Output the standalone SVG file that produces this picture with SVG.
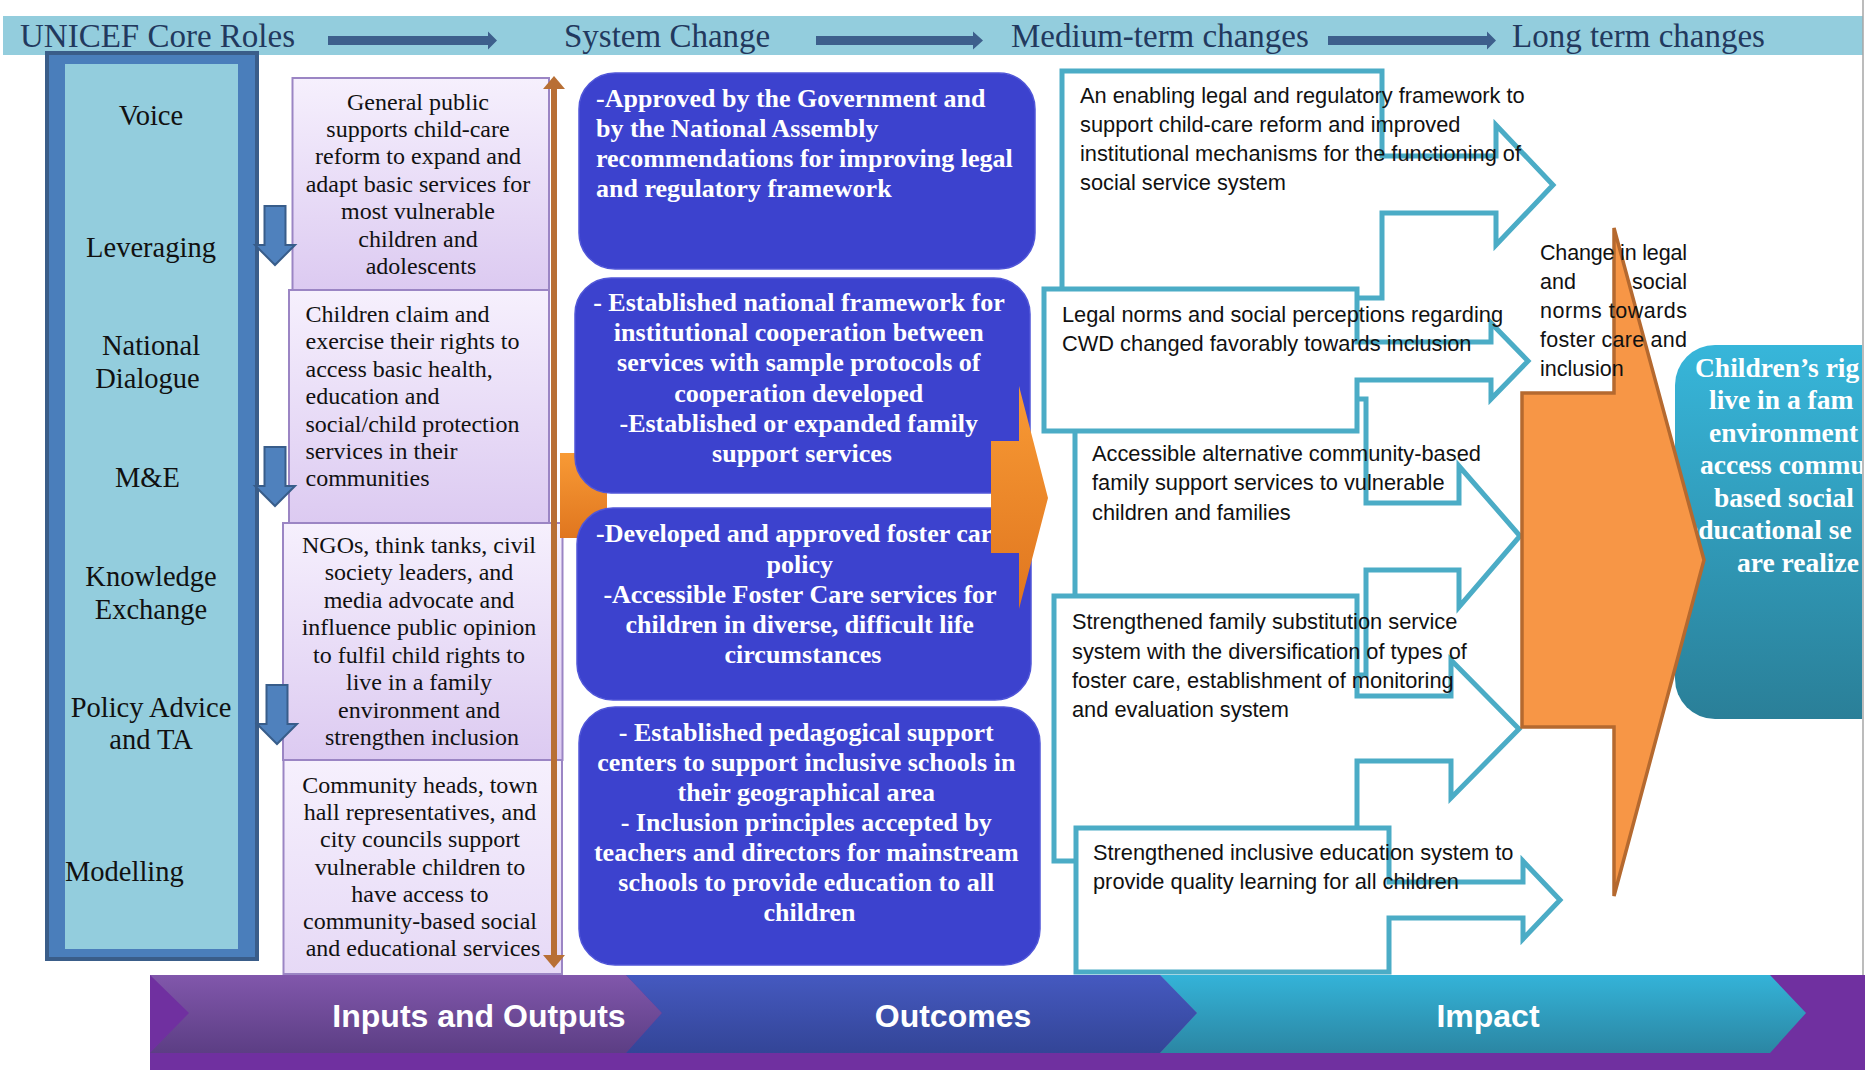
<svg xmlns="http://www.w3.org/2000/svg" width="1865" height="1070" viewBox="0 0 1865 1070">
<style>
.hdr{font-family:"Liberation Serif",serif;font-size:33px;fill:#22395E}
.role{font-family:"Liberation Serif",serif;font-size:28.5px;fill:#111;text-anchor:middle}
.io{font-family:"Liberation Serif",serif;font-size:24px;fill:#111}
.mid{text-anchor:middle}
.sc{font-family:"Liberation Serif",serif;font-size:26px;font-weight:bold;fill:#fff}
.mt{font-family:"Liberation Sans",sans-serif;font-size:21.8px;fill:#111}
.lt{font-family:"Liberation Sans",sans-serif;font-size:21.5px;fill:#111}
.imp{font-family:"Liberation Serif",serif;font-size:27.5px;font-weight:bold;fill:#fff}
.band{font-family:"Liberation Sans",sans-serif;font-size:32px;font-weight:bold;fill:#fff;text-anchor:middle}
.pbox{stroke:#9B85C4;stroke-width:2}
.bbox{fill:#3C42CE;stroke:#5056D8;stroke-width:1.5}
.callout{fill:#fff;stroke:#4BACC6;stroke-width:5;stroke-linejoin:miter}
.hdarrow{fill:#3D5F8C}
.down{fill:#4F81BD;stroke:#385D8A;stroke-width:2}
</style>
<defs>
<linearGradient id="gPurple" x1="0" y1="0" x2="0" y2="1"><stop offset="0" stop-color="#F6F0FD"/><stop offset="1" stop-color="#DCCAF1"/></linearGradient>
<linearGradient id="gPurple2" x1="0" y1="0" x2="0" y2="1"><stop offset="0" stop-color="#F6F0FD"/><stop offset="1" stop-color="#E6D9F6"/></linearGradient>
<linearGradient id="gOrange" x1="0" y1="0" x2="0" y2="1"><stop offset="0" stop-color="#F89A35"/><stop offset="1" stop-color="#E0761F"/></linearGradient>
<linearGradient id="gTeal" x1="0" y1="0" x2="0" y2="1"><stop offset="0" stop-color="#37B6DA"/><stop offset="1" stop-color="#2A7F98"/></linearGradient>
<linearGradient id="gC1" x1="0" y1="0" x2="0" y2="1"><stop offset="0" stop-color="#8157AB"/><stop offset="1" stop-color="#5C3E84"/></linearGradient>
<linearGradient id="gC2" x1="0" y1="0" x2="0" y2="1"><stop offset="0" stop-color="#4559C0"/><stop offset="1" stop-color="#334597"/></linearGradient>
<linearGradient id="gC3" x1="0" y1="0" x2="0" y2="1"><stop offset="0" stop-color="#34B3D8"/><stop offset="1" stop-color="#2B86A3"/></linearGradient>
<clipPath id="edge"><rect x="0" y="0" width="1862" height="1070"/></clipPath>
<path id="downArrow" d="M-10.5,0 H10.5 V39 H20 L0,59 L-20,39 H-10.5 Z"/>
</defs>
<rect width="1865" height="1070" fill="#fff"/>

<g id="header">
<rect x="3" y="16" width="1860" height="39" fill="#93CDDD"/>
<text class="hdr" x="20" y="47">UNICEF Core Roles</text>
<text class="hdr" x="564" y="47">System Change</text>
<text class="hdr" x="1011" y="47">Medium-term changes</text>
<text class="hdr" x="1512" y="47">Long term changes</text>
</g>

<g id="core-roles">
<rect x="47" y="53" width="210" height="906" fill="#4A7EBB" stroke="#3A5D89" stroke-width="4"/>
<rect x="65" y="64" width="173" height="885" fill="#93CDDD"/>
<text class="role" x="151" y="125.4">Voice</text>
<text class="role" x="151" y="257.4">Leveraging</text>
<text class="role" x="151" y="355">National</text>
<text class="role" x="147.5" y="388">Dialogue</text>
<text class="role" x="147.5" y="487">M&amp;E</text>
<text class="role" x="151" y="585.7">Knowledge</text>
<text class="role" x="151" y="619">Exchange</text>
<text class="role" x="151" y="716.5">Policy Advice</text>
<text class="role" x="151" y="748.6">and TA</text>
<text class="role" x="65" y="880.6" style="text-anchor:start">Modelling</text>
</g>

<g id="output-general-public">
<rect class="pbox" x="292.5" y="78" width="256.5" height="212" fill="url(#gPurple)"/>
<text class="io mid" x="421">
<tspan x="421" y="109.5">General public</tspan>
<tspan x="421" y="136.9">supports child-care</tspan>
<tspan x="421" y="164.3">reform to expand and</tspan>
<tspan x="421" y="191.7">adapt basic services for</tspan>
<tspan x="421" y="219.1">most vulnerable</tspan>
<tspan x="421" y="246.5">children and</tspan>
<tspan x="421" y="273.9">adolescents</tspan>
</text>
</g>
<g id="output-children">
<rect class="pbox" x="289" y="290" width="260" height="233" fill="url(#gPurple)"/>
<text class="io" x="305.5">
<tspan x="305.5" y="322">Children claim and</tspan>
<tspan x="305.5" y="349.4">exercise their rights to</tspan>
<tspan x="305.5" y="376.8">access basic health,</tspan>
<tspan x="305.5" y="404.2">education and</tspan>
<tspan x="305.5" y="431.6">social/child protection</tspan>
<tspan x="305.5" y="459">services in their</tspan>
<tspan x="305.5" y="486.4">communities</tspan>
</text>
</g>
<g id="output-ngos">
<rect class="pbox" x="283" y="523" width="279.5" height="237" fill="url(#gPurple)"/>
<text class="io mid" x="422">
<tspan x="422" y="552.7">NGOs, think tanks, civil</tspan>
<tspan x="422" y="580.2">society leaders, and</tspan>
<tspan x="422" y="607.7">media advocate and</tspan>
<tspan x="422" y="635.2">influence public opinion</tspan>
<tspan x="422" y="662.7">to fulfil child rights to</tspan>
<tspan x="422" y="690.2">live in a family</tspan>
<tspan x="422" y="717.7">environment and</tspan>
<tspan x="422" y="745.2">strengthen inclusion</tspan>
</text>
</g>
<g id="output-community">
<rect class="pbox" x="283.5" y="760" width="278.5" height="214" fill="url(#gPurple2)"/>
<text class="io mid" x="423">
<tspan x="423" y="793">Community heads, town</tspan>
<tspan x="423" y="820.2">hall representatives, and</tspan>
<tspan x="423" y="847.3">city councils support</tspan>
<tspan x="423" y="874.5">vulnerable children to</tspan>
<tspan x="423" y="901.7">have access to</tspan>
<tspan x="423" y="928.8">community-based social</tspan>
<tspan x="423" y="956">and educational services</tspan>
</text>
</g>

<g id="connectors-back">
<path d="M560,453 H595 Q607,453 607,466 V525 Q607,538 595,538 H560 Z" fill="url(#gOrange)"/>
</g>

<g id="system-approved">
<rect class="bbox" x="579" y="73" width="456" height="196" rx="36"/>
<text class="sc" x="596">
<tspan x="596" y="107.3">-Approved by the Government and</tspan>
<tspan x="596" y="137.3">by the National Assembly</tspan>
<tspan x="596" y="167.3">recommendations for improving legal</tspan>
<tspan x="596" y="197.3">and regulatory framework</tspan>
</text>
</g>
<g id="system-framework">
<rect class="bbox" x="575" y="278" width="455" height="215" rx="36"/>
<text class="sc mid" x="802">
<tspan x="802" y="311">- Established national framework for</tspan>
<tspan x="802" y="341.2">institutional cooperation between</tspan>
<tspan x="802" y="371.4">services with sample protocols of</tspan>
<tspan x="802" y="401.6">cooperation developed</tspan>
<tspan x="802" y="431.8">-Established or expanded family</tspan>
<tspan x="802" y="462">support services</tspan>
</text>
</g>
<g id="system-foster">
<rect class="bbox" x="577" y="508" width="454" height="192" rx="36"/>
<text class="sc mid" x="803">
<tspan x="803" y="542.3">-Developed and approved foster care</tspan>
<tspan x="803" y="572.5">policy</tspan>
<tspan x="803" y="602.7">-Accessible Foster Care services for</tspan>
<tspan x="803" y="632.9">children in diverse, difficult life</tspan>
<tspan x="803" y="663.1">circumstances</tspan>
</text>
</g>
<g id="system-pedagogical">
<rect class="bbox" x="579" y="707" width="461" height="258" rx="36"/>
<text class="sc mid" x="809.5">
<tspan x="809.5" y="740.7">- Established pedagogical support</tspan>
<tspan x="809.5" y="770.7">centers to support inclusive schools in</tspan>
<tspan x="809.5" y="800.7">their geographical area</tspan>
<tspan x="809.5" y="830.7">- Inclusion principles accepted by</tspan>
<tspan x="809.5" y="860.7">teachers and directors for mainstream</tspan>
<tspan x="809.5" y="890.7">schools to provide education to all</tspan>
<tspan x="809.5" y="920.7">children</tspan>
</text>
</g>

<g id="medium-legal-framework">
<path class="callout" d="M1062,71 H1382 V156 H1496 V125 L1553,185 L1496,245 V213 H1382 V298 H1062 Z"/>
<text class="mt" x="1080">
<tspan x="1080" y="103">An enabling legal and regulatory framework to</tspan>
<tspan x="1080" y="132">support child-care reform and improved</tspan>
<tspan x="1080" y="161">institutional mechanisms for the functioning of</tspan>
<tspan x="1080" y="190">social service system</tspan>
</text>
</g>
<g id="medium-community-services">
<path class="callout" d="M1075,399 H1366 V503 H1459 V466 L1520,536 L1459,607 V570 H1366 V675 H1075 Z"/>
<text class="mt" x="1092">
<tspan x="1092" y="461">Accessible alternative community-based</tspan>
<tspan x="1092" y="490">family support services to vulnerable</tspan>
<tspan x="1092" y="519.5">children and families</tspan>
</text>
</g>
<g id="medium-legal-norms">
<path class="callout" d="M1044,289 H1357 V342 H1491 V323 L1528,361 L1491,399 V380 H1357 V431 H1044 Z"/>
<text class="mt" x="1062">
<tspan x="1062" y="322">Legal norms and social perceptions regarding</tspan>
<tspan x="1062" y="351">CWD changed favorably towards inclusion</tspan>
</text>
</g>
<g id="medium-family-substitution">
<path class="callout" d="M1054,596 H1357 V696 H1451 V660 L1519,729 L1451,798 V761 H1357 V861 H1054 Z"/>
<text class="mt" x="1072">
<tspan x="1072" y="629">Strengthened family substitution service</tspan>
<tspan x="1072" y="658.5">system with the diversification of types of</tspan>
<tspan x="1072" y="687.5">foster care, establishment of monitoring</tspan>
<tspan x="1072" y="717">and evaluation system</tspan>
</text>
</g>
<g id="medium-inclusive-education">
<path class="callout" d="M1076,828 H1389 V882 H1523 V861 L1560,900 L1523,939 V918 H1389 V972 H1076 Z"/>
<text class="mt" x="1093">
<tspan x="1093" y="860">Strengthened inclusive education system to</tspan>
<tspan x="1093" y="888.5">provide quality learning for all children</tspan>
</text>
</g>

<g id="impact-children-rights" clip-path="url(#edge)">
<rect x="1675" y="345" width="260" height="374" rx="40" fill="url(#gTeal)"/>
<text class="imp">
<tspan x="1695" y="377">Children&#8217;s rig</tspan>
<tspan x="1709" y="409">live in a fam</tspan>
<tspan x="1709" y="441.5">environment</tspan>
<tspan x="1700" y="474">access commu</tspan>
<tspan x="1714" y="506.5">based social</tspan>
<tspan x="1686" y="539">educational se</tspan>
<tspan x="1737" y="571.5">are realize</tspan>
</text>
</g>

<g id="connectors">
<path class="hdarrow" d="M328,36 H488 V31.5 L497,40.5 L488,49.5 V45 H328 Z"/>
<path class="hdarrow" d="M816,36 H973 V31.5 L983,40.5 L973,49.5 V45 H816 Z"/>
<path class="hdarrow" d="M1328,36 H1487 V31.5 L1496,40.5 L1487,49.5 V45 H1328 Z"/>
<use href="#downArrow" class="down" transform="translate(275,206)"/>
<use href="#downArrow" class="down" transform="translate(275,447)"/>
<use href="#downArrow" class="down" transform="translate(277,685)"/>
<line x1="554" y1="86" x2="554" y2="958" stroke="#B86F35" stroke-width="6"/>
<polygon points="543,89 554,76 565,89" fill="#B86F35"/>
<polygon points="543,955 554,968 565,955" fill="#B86F35"/>
<path d="M991,441 H1019 V386 L1048,498 L1019,609 V553 H991 Z" fill="url(#gOrange)"/>
<path d="M1522,393 H1614 V228 L1704,560 L1614,896 V727 H1522 Z" fill="#F79646" stroke="#B5692F" stroke-width="3.5"/>
</g>

<g id="long-term-change">
<text class="lt" x="1540" y="260" textLength="147" lengthAdjust="spacing">Change in legal</text>
<text class="lt" y="289"><tspan x="1540">and</tspan><tspan x="1687" text-anchor="end">social</tspan></text>
<text class="lt" x="1540" y="318" textLength="147" lengthAdjust="spacing">norms towards</text>
<text class="lt" x="1540" y="347" textLength="147" lengthAdjust="spacing">foster care and</text>
<text class="lt" x="1540" y="376">inclusion</text>
</g>

<g id="results-band">
<rect x="150" y="975" width="1715" height="95" fill="#7030A0"/>
<polygon points="150,975 626,975 662,1013 626,1053 150,1053 189,1013" fill="url(#gC1)"/>
<polygon points="626,975 1160,975 1197,1013 1160,1053 626,1053 662,1013" fill="url(#gC2)"/>
<polygon points="1160,975 1770,975 1806,1013 1770,1053 1160,1053 1197,1013" fill="url(#gC3)"/>
<text class="band" x="479" y="1027">Inputs and Outputs</text>
<text class="band" x="953" y="1027">Outcomes</text>
<text class="band" x="1488" y="1027">Impact</text>
</g>

<line x1="1863" y1="0" x2="1863" y2="975" stroke="#A6A6A6" stroke-width="1.5"/>
</svg>
